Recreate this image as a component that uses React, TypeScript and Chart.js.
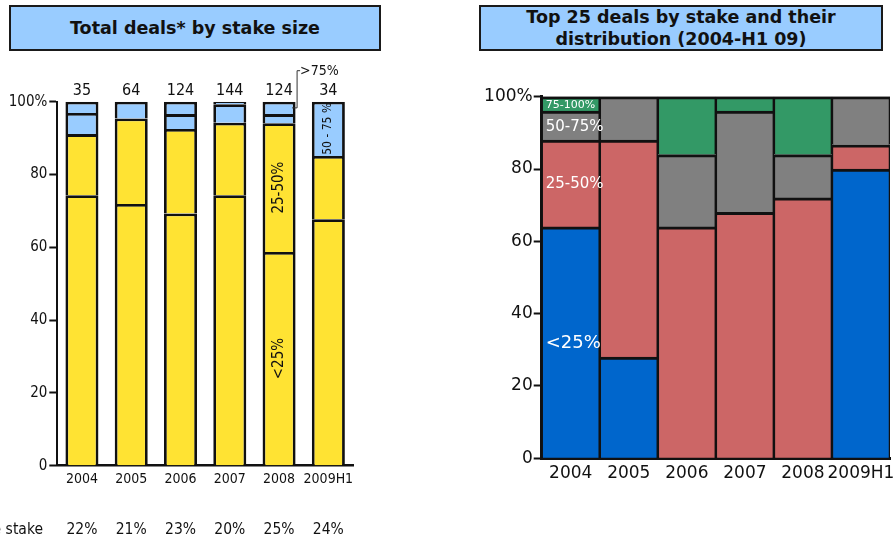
import React, { useEffect, useRef } from 'react';
import { Chart, registerables } from 'chart.js';

Chart.register(...registerables);

// Years shown on both charts
const years = ['2004', '2005', '2006', '2007', '2008', '2009H1'];

// Total deals: share of deals in each stake band (%)
const dealsUnder25 = [74.3, 71.9, 69.3, 74.3, 58.7, 67.7];
const deals25to50 = [16.8, 23.5, 23.2, 19.9, 35.4, 17.4];
const deals50to75 = [5.8, 4.6, 4.1, 5.1, 2.5, 14.9];
const dealsOver75 = [3.1, 0, 3.4, 0.7, 3.4, 0];
const dealCounts = [35, 64, 124, 144, 124, 34];
const averageStake = ['22%', '21%', '23%', '20%', '25%', '24%'];
const averageStakeLabel = 'Average stake';

// Top 25 deals: share of deals in each stake band (%)
const topUnder25 = [64, 28, 0, 0, 0, 80];
const top25to50 = [24, 60, 64, 68, 72, 6.7];
const top50to75 = [8, 12, 20, 28, 12, 13.3];
const top75to100 = [4, 0, 16, 4, 16, 0];

const yTicks = [0, 20, 40, 60, 80, 100];

const YELLOW = '#FFE333';
const LIGHT_BLUE = '#99CCFF';
const BLUE = '#0066CC';
const RED = '#CC6666';
const GREY = '#808080';
const GREEN = '#339966';

const NARROW = '"DejaVu Sans Condensed", "DejaVu Sans", sans-serif';
const WIDE = '"DejaVu Sans", Verdana, sans-serif';

const W = 894;
const H = 539;

function segCenter(chart: any, ds: number, idx: number) {
  const el: any = chart.getDatasetMeta(ds).data[idx];
  return { x: el.x, y: (el.y + el.base) / 2, top: el.y, width: el.width };
}

// Counts above bars, band names inside bars, the >75% call-out and the average-stake row
const totalDealsLabels = {
  id: 'totalDealsLabels',
  afterDatasetsDraw(chart: any) {
    const { ctx, chartArea } = chart;
    const xs = chart.scales.x;
    ctx.save();
    ctx.fillStyle = '#111';
    ctx.font = `16px ${NARROW}`;
    ctx.textAlign = 'center';
    ctx.textBaseline = 'bottom';
    dealCounts.forEach((n, i) => {
      ctx.fillText(String(n), xs.getPixelForValue(i), chartArea.top - 3);
    });

    // rotated band names in the 2008 and 2009H1 bars
    const drawRotated = (text: string, x: number, y: number, size: number) => {
      ctx.save();
      ctx.translate(x, y);
      ctx.rotate(-Math.PI / 2);
      ctx.font = `${size}px ${NARROW}`;
      ctx.textAlign = 'center';
      ctx.textBaseline = 'middle';
      ctx.fillStyle = '#111';
      ctx.fillText(text, 0, 0);
      ctx.restore();
    };
    const c08a = segCenter(chart, 0, 4);
    drawRotated('<25%', c08a.x, c08a.y, 15);
    const c08b = segCenter(chart, 1, 4);
    drawRotated('25-50%', c08b.x, c08b.y, 15);
    const c09 = segCenter(chart, 2, 5);
    drawRotated('50 - 75 %', c09.x, c09.y, 12);

    // call-out for the >75% band
    const c08d = segCenter(chart, 3, 4);
    const edge = c08d.x + c08d.width / 2 + 1.5;
    const topY = chartArea.top - 31;
    ctx.strokeStyle = '#333';
    ctx.lineWidth = 1;
    ctx.beginPath();
    ctx.moveTo(c08d.x + 13, c08d.y);
    ctx.lineTo(edge, c08d.y);
    ctx.lineTo(edge, topY);
    ctx.lineTo(edge + 3, topY);
    ctx.stroke();
    ctx.font = `14px ${NARROW}`;
    ctx.textAlign = 'left';
    ctx.textBaseline = 'middle';
    ctx.fillStyle = '#111';
    ctx.fillText('>75%', edge + 3, topY + 1);

    // average stake row
    ctx.font = `15.5px ${NARROW}`;
    ctx.textBaseline = 'middle';
    ctx.textAlign = 'right';
    ctx.fillText(averageStakeLabel, 43, 530);
    ctx.textAlign = 'center';
    averageStake.forEach((s, i) => {
      ctx.fillText(s, xs.getPixelForValue(i), 530);
    });
    ctx.restore();
  },
};

// Band names inside the 2004 column
const topDealsLabels = {
  id: 'topDealsLabels',
  afterDatasetsDraw(chart: any) {
    const { ctx } = chart;
    ctx.save();
    ctx.fillStyle = '#ffffff';
    ctx.textAlign = 'left';
    ctx.textBaseline = 'middle';
    const names: [number, string, number][] = [
      [0, '<25%', 18],
      [1, '25-50%', 15],
      [2, '50-75%', 15],
      [3, '75-100%', 11],
    ];
    names.forEach(([ds, text, size]) => {
      const c = segCenter(chart, ds, 0);
      ctx.font = `${size}px ${WIDE}`;
      ctx.fillText(text, c.x - c.width / 2 + 4, c.y + 1);
    });
    ctx.restore();
  },
};

function useChart(ref: React.RefObject<HTMLCanvasElement>, make: (c: HTMLCanvasElement) => Chart) {
  useEffect(() => {
    if (!ref.current) return;
    const chart = make(ref.current);
    return () => chart.destroy();
  }, []);
}

function TotalDealsChart() {
  const ref = useRef<HTMLCanvasElement>(null);
  useChart(ref, (canvas) => {
    const ds = (label: string, data: number[], color: string) => ({
      label,
      data,
      backgroundColor: color,
      borderColor: '#111',
      borderWidth: 2.8,
      borderSkipped: 'bottom' as const,
      barPercentage: 0.67,
      categoryPercentage: 1,
    });
    return new Chart(canvas, {
      type: 'bar',
      data: {
        labels: years,
        datasets: [
          ds('<25%', dealsUnder25, YELLOW),
          ds('25-50%', deals25to50, YELLOW),
          ds('50-75%', deals50to75, LIGHT_BLUE),
          ds('>75%', dealsOver75, LIGHT_BLUE),
        ],
      },
      options: {
        responsive: false,
        animation: false,
        events: [],
        layout: { padding: { left: 0, right: 27, top: 101.7, bottom: 43.3 } },
        plugins: { legend: { display: false }, tooltip: { enabled: false } },
        scales: {
          x: {
            stacked: true,
            grid: { display: false, drawTicks: false },
            border: { display: true, color: '#111', width: 2.5 },
            ticks: {
              color: '#111',
              font: { family: NARROW, size: 14 },
              padding: 5,
              autoSkip: false,
              maxRotation: 0,
              minRotation: 0,
            },
            afterFit: (a: any) => {
              a.height = 30;
              a.paddingLeft = 0;
              a.paddingRight = 0;
            },
          },
          y: {
            stacked: true,
            min: 0,
            max: 100,
            afterBuildTicks: (a: any) => {
              a.ticks = yTicks.map((v) => ({ value: v }));
            },
            grid: {
              drawOnChartArea: false,
              drawTicks: true,
              tickLength: 8,
              tickWidth: 2,
              tickColor: '#111',
            },
            border: { display: true, color: '#111', width: 2 },
            ticks: {
              color: '#111',
              font: { family: NARROW, size: 15 },
              padding: 2,
              callback: (v: any) => (v === 100 ? '100%' : String(v)),
            },
            afterFit: (a: any) => {
              a.width = 57.3;
              a.paddingTop = 0;
              a.paddingBottom = 0;
            },
          },
        },
      },
      plugins: [totalDealsLabels],
    } as any);
  });
  return (
    <canvas
      ref={ref}
      width={380}
      height={H}
      style={{ position: 'absolute', left: 0, top: 0, width: 380, height: H }}
    />
  );
}

function TopDealsChart() {
  const ref = useRef<HTMLCanvasElement>(null);
  useChart(ref, (canvas) => {
    const ds = (label: string, data: number[], color: string) => ({
      label,
      data,
      backgroundColor: color,
      borderColor: '#111',
      borderWidth: { top: 3, left: 1.6, right: 1.6, bottom: 0 },
      borderSkipped: 'bottom' as const,
      barPercentage: 1,
      categoryPercentage: 1,
    });
    return new Chart(canvas, {
      type: 'bar',
      data: {
        labels: years,
        datasets: [
          ds('<25%', topUnder25, BLUE),
          ds('25-50%', top25to50, RED),
          ds('50-75%', top50to75, GREY),
          ds('75-100%', top75to100, GREEN),
        ],
      },
      options: {
        responsive: false,
        animation: false,
        events: [],
        layout: { padding: { left: 0, right: 4, top: 96.7, bottom: 50.7 } },
        plugins: { legend: { display: false }, tooltip: { enabled: false } },
        scales: {
          x: {
            stacked: true,
            grid: { display: false, drawTicks: false },
            border: { display: true, color: '#111', width: 3 },
            ticks: {
              color: '#111',
              font: { family: WIDE, size: 17 },
              padding: 5,
              autoSkip: false,
              maxRotation: 0,
              minRotation: 0,
            },
            afterFit: (a: any) => {
              a.height = 30;
              a.paddingLeft = 0;
              a.paddingRight = 0;
            },
          },
          y: {
            stacked: true,
            min: 0,
            max: 100,
            afterBuildTicks: (a: any) => {
              a.ticks = yTicks.map((v) => ({ value: v }));
            },
            grid: {
              drawOnChartArea: true,
              color: (c: any) => (c.tick && c.tick.value === 100 ? '#b0b0b0' : 'rgba(0,0,0,0)'),
              lineWidth: 1,
              drawTicks: true,
              tickLength: 8,
              tickWidth: 2,
              tickColor: '#111',
            },
            border: { display: true, color: '#111', width: 3 },
            ticks: {
              color: '#111',
              font: { family: WIDE, size: 17 },
              padding: 1,
              callback: (v: any) => (v === 100 ? '100%' : String(v)),
            },
            afterFit: (a: any) => {
              a.width = 71.7;
              a.paddingTop = 0;
              a.paddingBottom = 0;
            },
          },
        },
      },
      plugins: [topDealsLabels],
    } as any);
  });
  return (
    <canvas
      ref={ref}
      width={424}
      height={H}
      style={{ position: 'absolute', left: 470, top: 0, width: 424, height: H }}
    />
  );
}

const titleBox: React.CSSProperties = {
  position: 'absolute',
  top: 5,
  height: 46,
  boxSizing: 'border-box',
  border: '2.5px solid #1a1a1a',
  background: LIGHT_BLUE,
  display: 'flex',
  alignItems: 'center',
  justifyContent: 'center',
  textAlign: 'center',
  fontWeight: 'bold',
  fontFamily: WIDE,
  fontSize: 17.5,
  color: '#111',
  zIndex: 2,
};

export default function App() {
  return (
    <div
      style={{
        position: 'absolute',
        left: 0,
        top: 0,
        width: W,
        height: H,
        overflow: 'hidden',
        background: '#ffffff',
      }}
    >
      <TotalDealsChart />
      <TopDealsChart />
      <div style={{ ...titleBox, left: 9, width: 372 }}>Total deals* by stake size</div>
      <div style={{ ...titleBox, left: 479, width: 404, lineHeight: '22px' }}>
        Top 25 deals by stake and their
        <br />
        distribution (2004-H1 09)
      </div>
    </div>
  );
}
